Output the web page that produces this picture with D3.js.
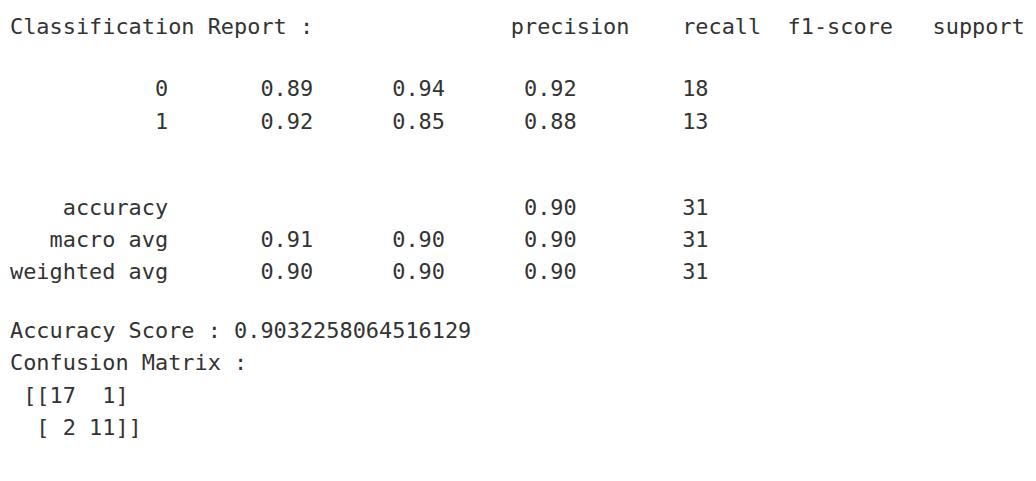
<!DOCTYPE html>
<html>
<head>
<meta charset="utf-8">
<script src="https://cdn.jsdelivr.net/npm/d3@7"></script>
<style>
  body { margin: 0; background: #fff; }
  text { white-space: pre; }
</style>
</head>
<body>
<div id="container" style="width:1036px;height:481px;"></div>
<script>
var classLabels = ["0", "1"];
var precision = [0.89, 0.92];
var recall = [0.94, 0.85];
var f1Score = [0.92, 0.88];
var support = [18, 13];

var avgLabels = ["macro avg", "weighted avg"];
var avgPrecision = [0.91, 0.90];
var avgRecall = [0.90, 0.90];
var avgF1 = [0.90, 0.90];
var avgSupport = [31, 31];

var accuracy = 0.90;
var accuracySupport = 31;
var accuracyScore = "0.9032258064516129";
var confusion = [[17, 1], [2, 11]];
var headers = ["precision", "recall", "f1-score", "support"];

var width = 1036, height = 481;
var textColor = "#333";

// build the printed lines the way sklearn formats them
var w = 12;
function pad(s, n) { s = String(s); while (s.length < n) s = " " + s; return s; }
function num(v) { return v.toFixed(2); }

var lines = [];
lines.push({ i: 0, t: "Classification Report : " + pad("", w) + " " + headers.map(function(h){ return " " + pad(h, 9); }).join("") });
classLabels.forEach(function(c, k) {
  lines.push({ i: 2 + k, t: pad(c, w) + " " + " " + pad(num(precision[k]), 9) + " " + pad(num(recall[k]), 9) + " " + pad(num(f1Score[k]), 9) + " " + pad(support[k], 9) });
});
lines.push({ i: 5, t: pad("accuracy", w) + " " + " " + pad("", 9) + " " + pad("", 9) + " " + pad(num(accuracy), 9) + " " + pad(accuracySupport, 9) });
avgLabels.forEach(function(c, k) {
  lines.push({ i: 6 + k, t: pad(c, w) + " " + " " + pad(num(avgPrecision[k]), 9) + " " + pad(num(avgRecall[k]), 9) + " " + pad(num(avgF1[k]), 9) + " " + pad(avgSupport[k], 9) });
});
lines.push({ i: 9, t: "Accuracy Score : " + accuracyScore });
lines.push({ i: 10, t: "Confusion Matrix :" });
confusion.forEach(function(row, k) {
  var s = row.map(function(v){ return pad(v, 2); }).join(" ");
  lines.push({ i: 11 + k, t: (k === 0 ? " [[" : "  [") + s + (k === confusion.length - 1 ? "]]" : "]") });
});

var svg = d3.select("#container")
  .append("svg")
  .attr("width", width)
  .attr("height", height);

// blank lines in the screenshot are not all the same height
var y = d3.scaleLinear()
  .domain([0, 2, 3, 5, 7, 9, 12])
  .range([34, 96, 129, 215, 279, 338, 435]);

svg.selectAll("text.line")
  .data(lines)
  .enter()
  .append("text")
  .attr("class", "line")
  .attr("x", 10)
  .attr("y", function(d){ return y(d.i); })
  .attr("fill", textColor)
  .style("font-family", "'DejaVu Sans Mono', monospace")
  .style("font-size", "21.9px")
  .text(function(d){ return d.t; });
</script>
</body>
</html>
